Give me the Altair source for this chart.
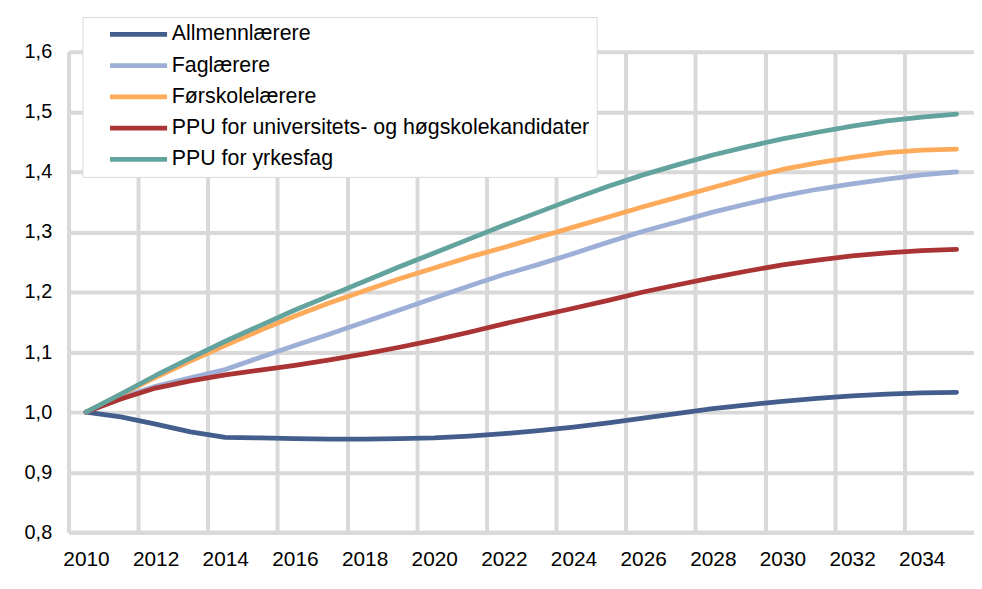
import altair as alt
import pandas as pd

years = list(range(2010, 2036))

allmenn = [1.000, 0.992, 0.980, 0.967, 0.958, 0.957, 0.956, 0.955, 0.955, 0.956,
           0.957, 0.960, 0.964, 0.969, 0.975, 0.982, 0.990, 0.998, 1.006, 1.012,
           1.018, 1.023, 1.027, 1.030, 1.032, 1.033]
fag = [1.000, 1.024, 1.043, 1.057, 1.071, 1.091, 1.111, 1.130, 1.150, 1.170,
       1.190, 1.210, 1.229, 1.246, 1.264, 1.283, 1.301, 1.317, 1.333, 1.347,
       1.360, 1.371, 1.380, 1.388, 1.395, 1.400]
forskole = [1.000, 1.029, 1.058, 1.085, 1.111, 1.136, 1.160, 1.182, 1.202, 1.222,
            1.240, 1.258, 1.274, 1.291, 1.308, 1.325, 1.342, 1.358, 1.374, 1.390,
            1.404, 1.415, 1.424, 1.432, 1.436, 1.438]
ppu_uh = [1.000, 1.022, 1.040, 1.052, 1.062, 1.070, 1.078, 1.087, 1.097, 1.108,
          1.120, 1.133, 1.147, 1.160, 1.173, 1.186, 1.200, 1.212, 1.224, 1.235,
          1.245, 1.253, 1.260, 1.265, 1.269, 1.271]
ppu_yrke = [1.000, 1.030, 1.061, 1.090, 1.118, 1.144, 1.170, 1.194, 1.218, 1.242,
            1.265, 1.288, 1.311, 1.333, 1.355, 1.376, 1.395, 1.412, 1.428, 1.442,
            1.455, 1.466, 1.476, 1.485, 1.491, 1.496]

series_names = ["Allmennlærere", "Faglærere", "Førskolelærere",
                "PPU for universitets- og høgskolekandidater", "PPU for yrkesfag"]
series_values = [allmenn, fag, forskole, ppu_uh, ppu_yrke]
colors = ["#435d8c", "#9dafd6", "#fdaa5a", "#aa3333", "#62a39d"]

x_label_values = list(range(2010, 2036, 2))
x_grid_values = [y - 0.5 for y in x_label_values]
y_values = [0.8, 0.9, 1.0, 1.1, 1.2, 1.3, 1.4, 1.5, 1.6]

rows = []
for name, vals in zip(series_names, series_values):
    for yr, v in zip(years, vals):
        rows.append({"År": yr, "Verdi": v, "Gruppe": name})
df = pd.DataFrame(rows)

W = 912
H = 484

FONT = "Liberation Sans"
GRID = "#d9d9d9"

x_scale = alt.Scale(domain=[2009.5, 2035.5], nice=False, zero=False)
y_scale = alt.Scale(domain=[0.8, 1.6], nice=False, zero=False)

base = alt.Chart(df)

grid_layer = base.mark_line(strokeOpacity=0).encode(
    x=alt.X("År:Q", scale=x_scale,
            axis=alt.Axis(values=x_grid_values, title=None, grid=True, ticks=False,
                          labels=False, domain=True, orient="bottom")),
    y=alt.Y("Verdi:Q", scale=y_scale,
            axis=alt.Axis(values=y_values, title=None, grid=True, ticks=False,
                          labelExpr="replace(format(datum.value, '.1f'), '.', ',')",
                          labelPadding=17, labelFontSize=20)),
    detail="Gruppe:N",
)

lines = base.mark_line(strokeWidth=4.8, strokeCap="round", strokeJoin="round").encode(
    x=alt.X("År:Q", scale=x_scale,
            axis=alt.Axis(values=x_label_values, title=None, grid=False, ticks=False,
                          domain=False, format="d", labelFlush=False,
                          labelOverlap=False, labelBound=False, labelPadding=16,
                          labelFontSize=21, orient="bottom")),
    y=alt.Y("Verdi:Q", scale=y_scale),
    color=alt.Color("Gruppe:N",
                    scale=alt.Scale(domain=series_names, range=colors),
                    legend=alt.Legend(orient="none", legendX=14, legendY=-35,
                                      direction="vertical", title=None,
                                      symbolType="stroke", symbolSize=3300,
                                      symbolStrokeWidth=4.8,
                                      clipHeight=21,
                                      labelFontSize=21.5, labelFont=FONT,
                                      labelColor="#000000", labelLimit=0,
                                      fillColor="white", strokeColor=GRID,
                                      padding=7, rowPadding=9.5,
                                      symbolOffset=18, labelOffset=2)),
    order=alt.Order("År:Q"),
)

chart = alt.layer(grid_layer, lines).resolve_axis(x="independent").properties(
    width=W, height=H,
    autosize=alt.AutoSizeParams(type="none"),
    padding={"left": 61, "top": 42, "right": 0, "bottom": 40},
).configure_axis(
    gridColor=GRID, gridWidth=4, gridOpacity=1,
    domainColor=GRID, domainWidth=4,
    labelFont=FONT, labelColor="#000000",
).configure_view(stroke=None)

chart.save("out.html", embed_options={"renderer": "svg", "actions": False})
